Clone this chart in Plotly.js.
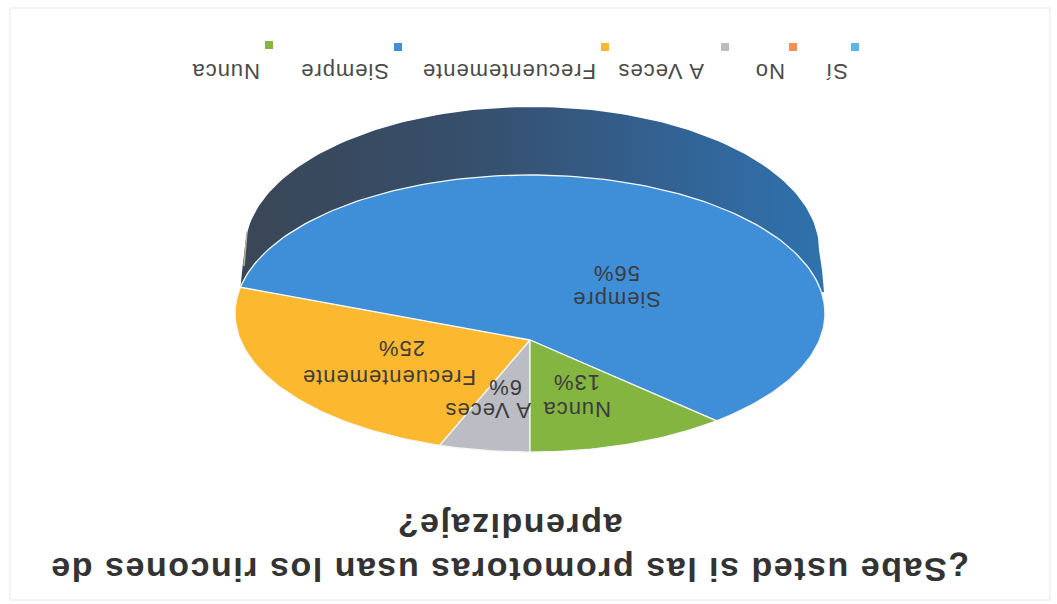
<!DOCTYPE html>
<html>
<head>
<meta charset="utf-8">
<script src="https://cdn.plot.ly/plotly-3.0.1.min.js"></script>
<style>html,body{margin:0;padding:0;background:#fff;overflow:hidden}#chart{width:1057px;height:604px}
.annotation-text{letter-spacing:.045em}</style>
</head>
<body>
<div id="chart"></div>
<script>
// Data
const categories = ["Sí", "No", "A Veces", "Frecuentemente", "Siempre", "Nunca"];
const percents = [0, 0, 6, 25, 56, 13];
const titleText = "¿Sabe usted si las promotoras usan los rincones de<br>aprendizaje?";

// Styles
const colors = ["#5bb5e8", "#f2905a", "#bcbcc4", "#fcb92f", "#3e8fd8", "#84b541"];
const textFont = "Liberation Sans, Arial, sans-serif";

// Layout (the reference is photographed upside down)
const legendMarkerX = [855, 793, 725, 605, 398, 269];
const legendMarkerY = [47, 47, 47, 47, 47, 45];
const legendTextX = [837, 770, 661, 509, 345, 226];
const nameLabelPx = {"A Veces": [488, 411], "Frecuentemente": [389, 378], "Siempre": [617, 300], "Nunca": [577, 410]};
const valueLabelPx = {"A Veces": [505, 388], "Frecuentemente": [402, 349], "Siempre": [617, 274], "Nunca": [577, 383]};

// Perspective projection of a disc on the page
const V = {x: 530, y: 340}, R = 289.5, A = 198.5, K = 0.1913;
function project(phi) {
  const u = -Math.sin(phi), v = Math.cos(phi), w = 1 + K * v;
  return [V.x + R * u / w, (A * v + V.y) / w];
}
const total = percents.reduce((a, b) => a + b, 0);
const traces = [];

// Side wall, drawn below the top face
(function () {
  const cx = 532, cy = 250, rx = 287, ry = 143, xs = [], ys = [];
  for (let i = 0; i <= 120; i++) {
    const t = Math.PI * i / 120;
    xs.push(cx + rx * Math.cos(t)); ys.push(cy - ry * Math.sin(t));
  }
  xs.unshift(824, 822); ys.unshift(292, 270);
  xs.push(242, 240, 824); ys.push(272, 292, 292);
  traces.push({
    type: "scatter", mode: "lines", x: xs, y: ys, fill: "toself", hoverinfo: "skip",
    line: {width: 0, color: "#34567a"},
    fillgradient: {type: "horizontal", colorscale: [[0, "#3a4656"], [0.4, "#364f6c"], [0.7, "#33608f"], [1, "#2f72ae"]]},
    showlegend: false
  });
  traces.push({type: "scatter", mode: "lines", x: [247, 244], y: [232, 266], hoverinfo: "skip",
    line: {width: 1.5, color: "#b9b39a"}, showlegend: false});
})();

// Slices, in category order, clockwise from the front of the disc
let cum = 0;
percents.forEach((p, i) => {
  const a0 = cum / total * 2 * Math.PI;
  cum += p;
  const a1 = cum / total * 2 * Math.PI;
  if (!p) return;
  const xs = [V.x], ys = [V.y], n = Math.max(8, Math.round(p * 3));
  for (let j = 0; j <= n; j++) {
    const q = project(a0 + (a1 - a0) * j / n);
    xs.push(q[0]); ys.push(q[1]);
  }
  xs.push(V.x); ys.push(V.y);
  traces.push({
    type: "scatter", mode: "lines", name: categories[i], x: xs, y: ys, fill: "toself",
    fillcolor: colors[i], line: {color: "#f4f8f4", width: 1.3}, hoverinfo: "name", showlegend: false
  });
});

// Legend swatches
traces.push({
  type: "scatter", mode: "markers", x: legendMarkerX, y: legendMarkerY, text: categories, hoverinfo: "text",
  marker: {symbol: "square", size: 8, color: colors}, showlegend: false
});

function flipped(x, y, text, size, color, extra) {
  return Object.assign({x: x, y: y, xref: "x", yref: "y", text: text, showarrow: false, textangle: 180,
    font: Object.assign({family: textFont, size: size, color: color}, extra || {}),
    xanchor: "center", yanchor: "middle", align: "center"});
}
const annotations = [];
categories.forEach((c, i) => {
  annotations.push(flipped(legendTextX[i], 72, c, 22, "#4a4a4a"));
  if (percents[i] > 0) {
    annotations.push(flipped(nameLabelPx[c][0], nameLabelPx[c][1], c, 22, "#3c3c3c"));
    annotations.push(flipped(valueLabelPx[c][0], valueLabelPx[c][1], percents[i] + "%", 22, "#3c3c3c"));
  }
});
annotations.push(flipped(510, 548, titleText, 34, "#333333", {weight: 700}));

const hidden = {visible: false, fixedrange: true};
Plotly.newPlot("chart", traces, {
  width: 1057, height: 604, margin: {l: 0, r: 0, t: 0, b: 0},
  paper_bgcolor: "#ffffff", plot_bgcolor: "#ffffff", showlegend: false,
  xaxis: Object.assign({range: [0, 1057]}, hidden),
  yaxis: Object.assign({range: [604, 0]}, hidden),
  annotations: annotations,
  shapes: [{type: "rect", xref: "x", yref: "y", x0: 10, y0: 8, x1: 1050, y1: 600, layer: "below",
    line: {color: "#f0f0f0", width: 1.5}}]
}, {displayModeBar: false, staticPlot: true});
</script>
</body>
</html>
